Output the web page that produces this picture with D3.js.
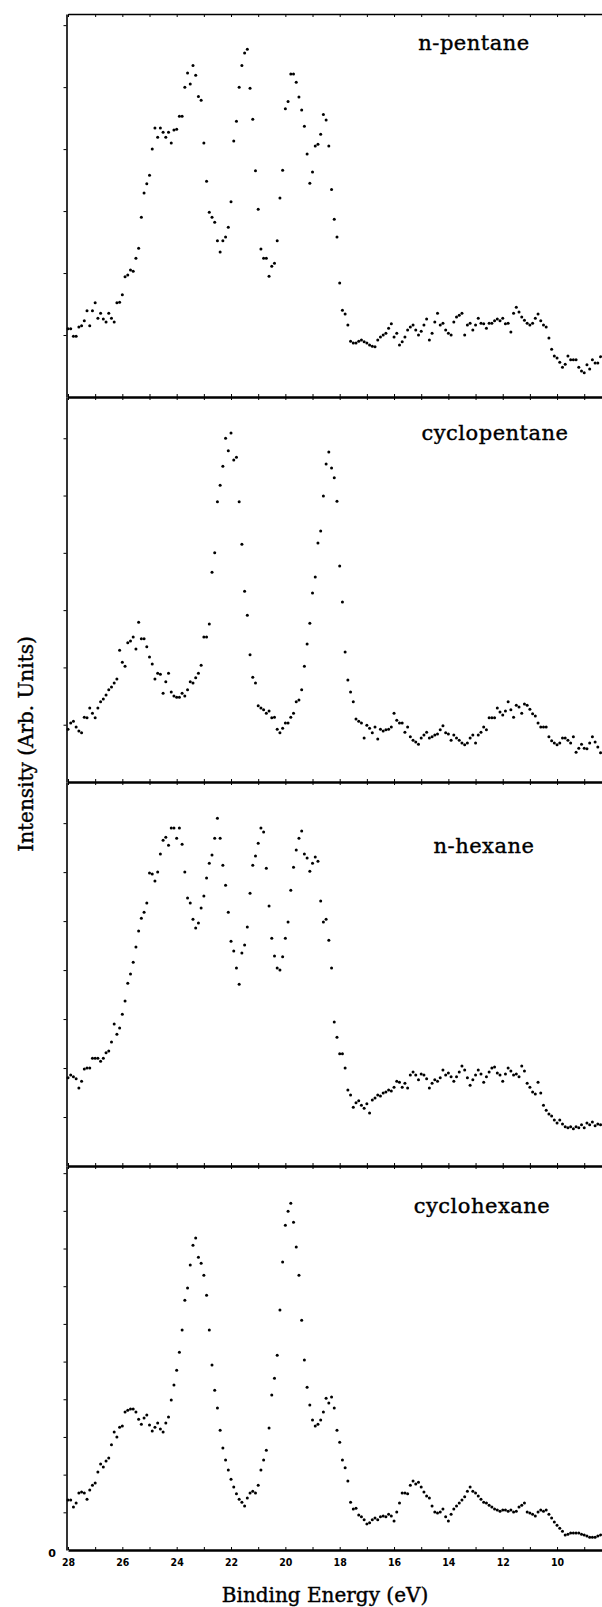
<!DOCTYPE html>
<meta charset="utf-8">
<style>
body { margin: 0; background: #fff; }
svg { display: block; }
.ax path, .ax line { stroke: #000; }
</style>
<body>
<script src="https://d3js.org/d3.v7.min.js"></script>
<script>

// spectra sampled every 0.1 eV, starting at 28 eV
var eStart = 28, eStep = 0.1;

var pentane = [
  1.10,1.10,0.98,0.98,1.13,1.15,1.23,1.39,1.15,1.39,
  1.52,1.27,1.35,1.26,1.21,1.35,1.27,1.21,1.52,1.53,
  1.65,1.94,1.97,2.05,2.03,2.24,2.40,2.90,3.29,3.44,
  3.58,4.00,4.34,4.19,4.34,4.27,4.19,4.27,4.10,4.31,
  4.32,4.53,4.53,5.00,5.23,5.05,5.35,5.19,4.85,4.79,
  4.10,3.48,2.98,2.90,2.82,2.52,2.34,2.52,2.58,2.74,
  3.15,4.13,4.45,5.00,5.35,5.55,5.61,4.98,4.48,3.65,
  3.03,2.39,2.24,2.24,1.95,2.11,2.16,2.52,3.21,3.66,
  4.65,4.77,5.21,5.21,5.08,4.84,4.63,4.37,3.92,3.45,
  3.63,4.05,4.08,4.24,4.56,4.47,4.05,3.35,2.87,2.58,
  1.84,1.40,1.34,1.16,0.90,0.87,0.87,0.90,0.92,0.89,
  0.87,0.84,0.82,0.81,0.92,0.97,1.00,1.03,1.11,1.18,
  0.97,1.03,0.84,0.89,0.97,1.08,1.13,1.16,1.08,1.00,
  1.06,1.16,1.26,0.92,1.03,1.21,1.35,1.16,1.19,1.08,
  1.03,1.00,1.21,1.29,1.32,1.35,1.00,1.16,1.19,1.08,
  1.16,1.27,1.19,1.18,1.11,1.19,1.19,1.23,1.26,1.23,
  1.27,1.18,1.19,1.05,1.35,1.45,1.37,1.29,1.24,1.19,
  1.16,1.19,1.27,1.34,1.23,1.16,1.13,0.95,0.77,0.66,
  0.63,0.56,0.48,0.53,0.66,0.60,0.60,0.60,0.48,0.42,
  0.39,0.52,0.45,0.60,0.55,0.55,0.65
];

var cyclopentane = [
  0.92,1.03,1.06,0.96,0.89,0.86,1.13,1.12,1.29,1.20,
  1.12,1.29,1.40,1.45,1.52,1.61,1.66,1.73,1.80,2.30,
  2.09,2.02,2.43,2.46,2.53,2.32,2.79,2.50,2.50,2.36,
  2.18,2.06,1.80,1.90,1.88,1.55,1.75,1.90,1.57,1.50,
  1.48,1.48,1.55,1.50,1.61,1.75,1.73,1.82,1.90,2.04,
  2.53,2.53,2.76,3.66,4.00,4.89,5.18,5.51,6.00,5.78,
  6.09,5.62,5.67,4.89,4.15,3.33,2.91,2.22,1.83,1.73,
  1.33,1.29,1.26,1.20,1.24,1.12,1.13,0.92,0.86,0.94,
  1.03,1.03,1.13,1.20,1.40,1.43,1.61,2.02,2.41,2.77,
  3.30,3.58,4.17,4.38,4.99,5.55,5.76,5.48,5.31,4.90,
  3.77,3.14,2.27,1.78,1.57,1.40,1.10,1.06,1.03,0.77,
  0.99,0.94,0.86,0.96,0.75,0.92,0.89,0.91,0.92,0.96,
  1.20,1.08,1.03,1.03,0.87,0.96,0.79,0.73,0.70,0.66,
  0.77,0.82,0.87,0.77,0.79,0.82,0.84,0.91,0.98,0.86,
  0.84,0.73,0.82,0.77,0.73,0.68,0.65,0.68,0.77,0.82,
  0.68,0.82,0.87,0.96,0.91,1.12,1.12,1.12,1.29,1.22,
  1.17,1.24,1.40,1.26,1.13,1.34,1.31,1.20,1.36,1.34,
  1.27,1.19,1.15,1.03,0.96,0.96,0.96,0.79,0.72,0.68,
  0.65,0.68,0.77,0.77,0.73,0.68,0.79,0.52,0.59,0.66,
  0.59,0.58,0.68,0.79,0.70,0.61,0.51
];

var hexane = [
  1.80,1.86,1.82,1.78,1.59,1.73,1.98,2.00,2.00,2.20,
  2.20,2.20,2.14,2.20,2.31,2.35,2.53,2.90,2.69,2.82,
  3.10,3.37,3.73,3.92,4.16,4.47,4.80,5.06,5.18,5.37,
  5.98,5.96,5.82,6.00,6.37,6.65,6.71,6.55,6.90,6.90,
  6.69,6.90,6.57,6.00,5.47,5.37,5.04,4.86,4.96,5.27,
  5.51,5.88,6.18,6.35,6.69,7.10,6.69,6.14,5.73,5.18,
  4.59,4.39,4.04,3.71,4.35,4.51,4.88,5.57,6.14,6.33,
  6.59,6.90,6.82,6.08,5.31,4.65,4.29,4.04,4.00,4.27,
  4.65,4.98,5.63,6.10,6.45,6.69,6.84,6.37,6.29,6.02,
  6.18,6.31,6.22,5.41,4.98,5.04,4.61,4.04,2.94,2.63,
  2.29,2.29,2.00,1.55,1.45,1.20,1.29,1.33,1.24,1.18,
  1.27,1.08,1.35,1.39,1.45,1.43,1.49,1.51,1.55,1.53,
  1.61,1.73,1.71,1.61,1.69,1.59,1.86,1.92,1.86,1.76,
  1.88,1.86,1.78,1.59,1.69,1.76,1.73,1.80,1.96,1.86,
  1.90,1.82,1.73,1.82,1.92,2.04,1.96,1.80,1.65,1.76,
  1.86,1.96,1.88,1.71,1.82,1.92,2.00,2.02,1.90,1.86,
  1.73,1.88,2.00,1.94,1.86,1.88,1.82,2.04,1.94,1.69,
  1.61,1.51,1.47,1.71,1.49,1.24,1.14,1.06,1.02,0.94,
  0.88,0.94,0.86,0.80,0.78,0.80,0.76,0.80,0.78,0.84,
  0.78,0.88,0.84,0.90,0.82,0.86,0.84
];

var cyclohexane = [
  1.33,1.33,1.14,1.25,1.51,1.54,1.51,1.35,1.59,1.72,
  1.78,2.07,2.28,2.20,2.36,2.44,2.79,3.13,3.00,3.26,
  3.29,3.66,3.71,3.74,3.74,3.66,3.47,3.34,3.50,3.58,
  3.32,3.16,3.26,3.37,3.21,3.13,3.37,3.53,3.98,4.38,
  4.77,5.25,5.84,6.63,6.95,7.56,8.09,8.28,7.77,7.61,
  7.29,6.76,5.84,4.91,4.24,3.77,3.18,2.71,2.39,2.12,
  1.88,1.67,1.49,1.35,1.27,1.17,1.38,1.51,1.56,1.51,
  1.72,2.12,2.39,2.65,3.24,4.11,4.56,5.17,6.37,7.64,
  8.62,8.99,9.20,8.70,8.04,7.29,6.10,5.04,4.32,3.85,
  3.45,3.29,3.34,3.45,3.66,4.03,3.90,4.06,3.77,3.18,
  2.86,2.39,2.18,1.83,1.27,1.09,1.11,0.93,0.88,0.80,
  0.69,0.72,0.80,0.85,0.80,0.88,0.90,0.88,0.95,0.90,
  0.77,1.01,1.25,1.51,1.51,1.49,1.72,1.83,1.75,1.80,
  1.67,1.54,1.43,1.38,1.17,1.01,0.98,1.01,1.09,0.88,
  0.77,0.95,1.09,1.17,1.25,1.33,1.41,1.56,1.67,1.56,
  1.51,1.43,1.35,1.27,1.25,1.19,1.14,1.09,1.06,1.03,
  1.06,1.06,1.03,1.06,1.01,1.03,1.14,1.19,1.25,1.01,
  0.98,0.95,0.90,1.01,1.06,1.03,1.06,0.95,0.85,0.74,
  0.66,0.58,0.50,0.40,0.42,0.45,0.45,0.45,0.45,0.42,
  0.40,0.37,0.34,0.34,0.34,0.37,0.40
];

var names = ["n-pentane", "cyclopentane", "n-hexane", "cyclohexane"];
var series = [pentane, cyclopentane, hexane, cyclohexane];
var xTicks = [28, 27, 26, 25, 24, 23, 22, 21, 20, 19, 18, 17, 16, 15, 14, 13, 12, 11, 10, 9];

var width = 602, height = 1607;
var panelTop = [14, 397, 782, 1166],
    panelBottom = [397, 782, 1166, 1550];
// each panel has its own intensity scale (tick spacing differs)
var yMax = [6.18, 6.72, 7.84, 10.19];
var labelPos = [[474, 50], [495, 440], [484, 853], [482, 1213]];
var axisLeftX = 66.5;

var svg = d3.select("body").append("svg")
    .attr("width", width)
    .attr("height", height);

svg.append("rect").attr("width", width).attr("height", height).attr("fill", "#fff");

var x = d3.scaleLinear().domain([28, 8]).range([68, 611.4]);

function serif(sel, size) {
  sel.attr("font-family", "DejaVu Serif")
     .attr("font-size", size)
     .attr("fill", "#000")
     .attr("stroke", "#000")
     .attr("stroke-width", 0.4);
}

series.forEach(function(data, k) {
  var y = d3.scaleLinear().domain([0, yMax[k]]).range([panelBottom[k], panelTop[k]]);
  var g = svg.append("g");

  // left axis with small outward ticks
  g.append("g")
      .attr("class", "ax")
      .attr("transform", "translate(" + axisLeftX + ",0)")
      .call(d3.axisLeft(y).tickValues(d3.range(1, Math.floor(yMax[k]) + 1)).tickSize(3).tickSizeOuter(0).tickFormat(""))
      .call(function(a) { a.select(".domain").attr("stroke-width", 1.6); });

  // top edge of the panel
  g.append("g")
      .attr("class", "ax")
      .attr("transform", "translate(0," + panelTop[k] + ")")
      .call(d3.axisTop(x).tickValues(xTicks).tickSize(-3).tickSizeOuter(0).tickFormat(""))
      .call(function(a) {
        a.select(".domain").attr("stroke-width", k == 0 ? 1.5 : 2.2);
        a.selectAll(".tick line").attr("stroke-width", 1);
      });

  // bottom edge
  var last = k == series.length - 1;
  g.append("g")
      .attr("class", "ax")
      .attr("transform", "translate(0," + panelBottom[k] + ")")
      .call(d3.axisBottom(x).tickValues(xTicks).tickSize(-3).tickSizeOuter(0).tickPadding(9)
          .tickFormat(function(d) { return last && d % 2 == 0 ? d : ""; }))
      .call(function(a) {
        a.select(".domain").attr("stroke-width", last ? 2.6 : 2.2);
        a.selectAll("text")
            .attr("font-family", "DejaVu Sans Condensed, DejaVu Sans")
            .attr("font-weight", "bold")
            .attr("font-size", 10.5)
            .attr("fill", "#000");
      });

  g.selectAll("circle")
      .data(data)
      .enter().append("circle")
      .attr("cx", function(d, i) { return x(eStart - eStep * i); })
      .attr("cy", function(d) { return y(d); })
      .attr("r", 1.5)
      .attr("fill", "#000");

  g.append("text")
      .attr("x", labelPos[k][0])
      .attr("y", labelPos[k][1])
      .attr("text-anchor", "middle")
      .attr("letter-spacing", 0.5)
      .call(serif, 21)
      .text(names[k]);
});

svg.append("text")
    .attr("x", 52)
    .attr("y", 1557)
    .attr("text-anchor", "middle")
    .attr("font-family", "DejaVu Sans")
    .attr("font-weight", "bold")
    .attr("font-size", 11)
    .text("0");

svg.append("text")
    .attr("transform", "translate(33,744) rotate(-90)")
    .attr("text-anchor", "middle")
    .call(serif, 20)
    .text("Intensity (Arb. Units)");

svg.append("text")
    .attr("x", 325)
    .attr("y", 1602)
    .attr("text-anchor", "middle")
    .call(serif, 20)
    .text("Binding Energy (eV)");

</script>
